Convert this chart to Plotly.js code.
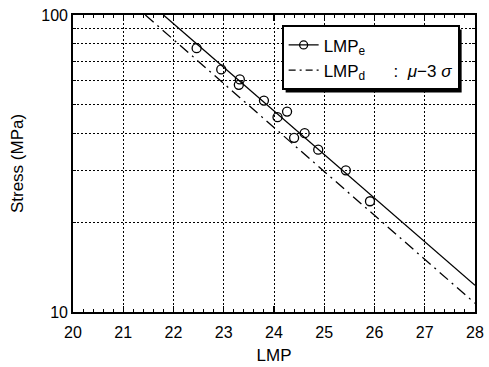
<!DOCTYPE html>
<html>
<head>
<meta charset="utf-8">
<script src="https://cdn.plot.ly/plotly-3.0.1.min.js"></script>
<style>html,body{margin:0;padding:0;background:#fff;}#chart{width:489px;height:367px;}</style>
</head>
<body>
<div id="chart"></div>
<script>
// Experimental points (LMP, stress MPa)
var lmpData = [22.46, 22.95, 23.32, 23.30, 23.80, 24.26, 24.07, 24.61, 24.40, 24.88, 25.43, 25.91];
var stressData = [77.3, 65.6, 60.7, 58.2, 51.5, 47.3, 45.3, 40.0, 38.6, 35.2, 30.0, 23.6];
// Fitted line LMP_e
var fitLMP = [21.8, 28];
var fitStress = [100, 12.3];
// Design line LMP_d : mu - 3 sigma
var designLMP = [21.44, 28];
var designStress = [100, 10.7];
var xTicks = [20, 21, 22, 23, 24, 25, 26, 27, 28];
var yTicks = [10, 100];
var nameE = 'LMP<sub>e</sub>';
var nameD = 'LMP<sub>d</sub>      :  <i>μ</i>−3 <i>σ</i>';

var font = 'Liberation Sans, Arial, sans-serif';
var traces = [
  {x: fitLMP, y: fitStress, mode: 'lines', line: {color: '#000', width: 1.3}, showlegend: false, hoverinfo: 'skip'},
  {x: designLMP, y: designStress, mode: 'lines', line: {color: '#000', width: 1.3, dash: '11px,5px,2px,5px'}, showlegend: false, hoverinfo: 'skip'},
  {x: lmpData, y: stressData, mode: 'markers', marker: {symbol: 'circle-open', size: 9, color: '#000', line: {width: 1.3}}, showlegend: false},
  {x: [null], y: [null], mode: 'lines+markers', name: nameE, line: {color: '#000', width: 1.3}, marker: {symbol: 'circle-open', size: 8, color: '#000', line: {width: 1.3}}},
  {x: [null], y: [null], mode: 'lines', name: nameD, line: {color: '#000', width: 1.3, dash: '7px,4px,2px,4px'}}
];
var layout = {
  width: 489, height: 367,
  margin: {l: 73, r: 14, t: 15, b: 55},
  paper_bgcolor: '#fff', plot_bgcolor: '#fff',
  font: {family: font, color: '#000', size: 16},
  showlegend: true,
  legend: {x: 0.519, y: 0.965, xanchor: 'left', yanchor: 'top', bgcolor: '#fff', bordercolor: '#000', borderwidth: 2, font: {size: 17, family: font}, tracegroupgap: 0},
  xaxis: {
    range: [20, 28], tickvals: xTicks, ticktext: xTicks.map(String),
    ticks: 'inside', ticklen: 6, tickwidth: 1.2, tickcolor: '#000',
    showline: true, linecolor: '#000', linewidth: 1.8, mirror: 'ticks',
    showgrid: true, gridcolor: '#000', gridwidth: 1, griddash: '2px,2px',
    zeroline: false, ticklabelstandoff: 5,
    minor: {dtick: 0.2, ticks: 'inside', ticklen: 3, tickcolor: '#000', tickwidth: 1, showgrid: false},
    title: {text: 'LMP', font: {size: 17}, standoff: 9},
    tickfont: {size: 16}
  },
  yaxis: {
    type: 'log', range: [1, 2], tickvals: yTicks, ticktext: yTicks.map(String),
    ticks: 'inside', ticklen: 6, tickwidth: 1.2, tickcolor: '#000',
    showline: true, linecolor: '#000', linewidth: 1.8, mirror: 'ticks',
    showgrid: false,
    zeroline: false,
    minor: {dtick: 'D1', ticks: 'inside', ticklen: 3, tickcolor: '#000', tickwidth: 1, showgrid: true, gridcolor: '#000', gridwidth: 1, griddash: '2px,2px'},
    title: {text: 'Stress (MPa)', font: {size: 17}, standoff: 13},
    tickfont: {size: 16}
  }
};
Plotly.newPlot('chart', traces, layout, {displayModeBar: false, staticPlot: true}).then(function (gd) {
  // drop shadow behind the legend box, placed from the legend's drawn size
  var bg = gd.querySelector('.legend .bg');
  if (!bg) return;
  var r = bg.getBoundingClientRect();
  var c = gd.getBoundingClientRect();
  var s = gd._fullLayout._size;
  var off = 3;
  function px(x) { return (x - c.left - s.l) / s.w; }
  function py(y) { return 1 - (y - c.top - s.t) / s.h; }
  return Plotly.relayout(gd, {shapes: [{
    type: 'rect', xref: 'paper', yref: 'paper',
    x0: px(r.left + off), x1: px(r.right + off), y0: py(r.bottom + off), y1: py(r.top + off),
    fillcolor: '#000', line: {width: 0}, layer: 'above'
  }]});
});
</script>
</body>
</html>
